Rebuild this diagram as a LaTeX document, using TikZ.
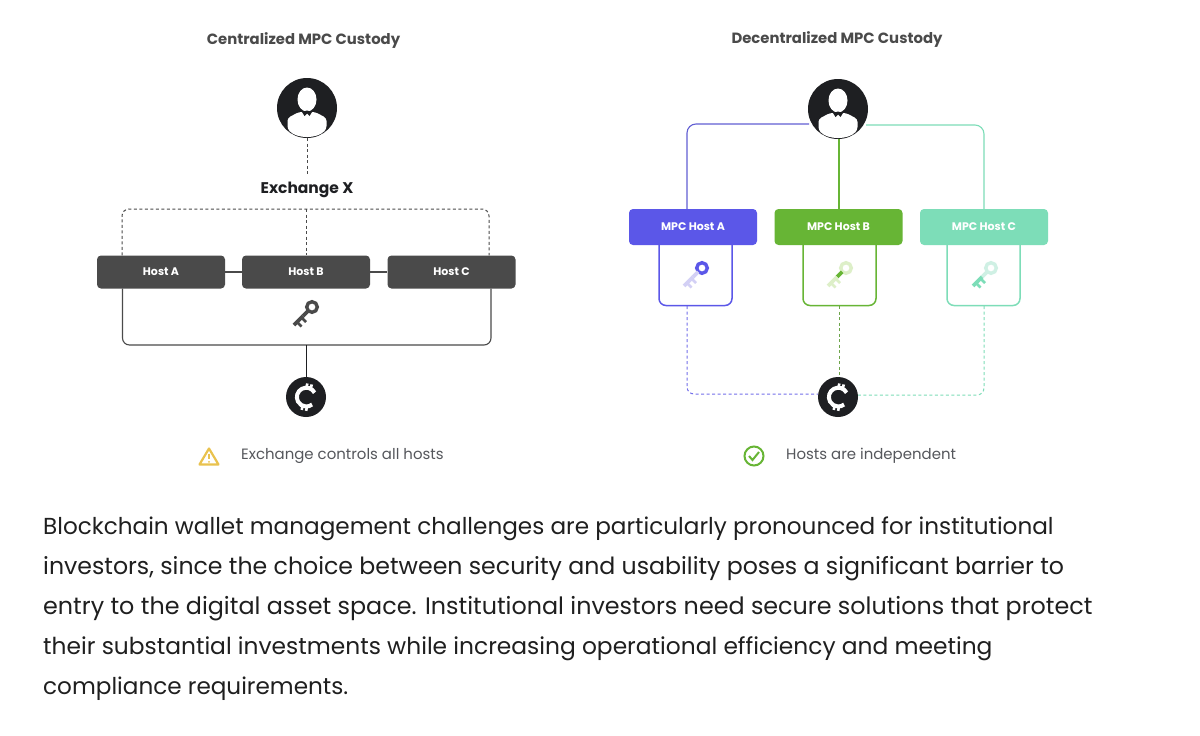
\documentclass[tikz,border=0pt]{standalone}
\usepackage{fontspec}
\setmainfont{Poppins}
\definecolor{hostgray}{HTML}{4A4A4A}
\definecolor{icondark}{HTML}{1E1F22}
\definecolor{textgray}{HTML}{55575C}
\definecolor{hostpurple}{HTML}{5B57E8}
\definecolor{hostgreen}{HTML}{67B535}
\definecolor{hostteal}{HTML}{7DDDB8}
\definecolor{lightpurple}{HTML}{D3D0F5}
\definecolor{lightgreen}{HTML}{DDEFC8}
\definecolor{lightteal}{HTML}{CFF0E4}
\definecolor{warnyellow}{HTML}{E9C24E}
\tikzset{
	hostbox/.style={rectangle,rounded corners=4,fill=#1,text=white,minimum width=128,minimum height=33,inner sep=0,font=\fontsize{11}{13}\selectfont\bfseries},
	mpcbox/.style={hostbox=#1,minimum height=36},
	keeper/.style={rectangle,draw=#1,line width=1.5,rounded corners=7,fill=white,minimum width=73,minimum height=71,inner sep=0},
	roundicon/.style={circle,fill=icondark,inner sep=0,minimum size=#1},
	title/.style={text=hostgray,inner sep=0,font=\fontsize{14.85}{17}\selectfont\bfseries},
	caption/.style={text=textgray,anchor=base west,inner sep=0,font=\fontsize{14.95}{17}\selectfont},
	bodyline/.style={text=black!88,anchor=base west,inner sep=0,font=\fontsize{#1}{26}\selectfont},
	thinline/.style={line width=1.1,draw=#1},
	dashline/.style={line width=1,draw=#1,dash pattern=on 3pt off 2.5pt},
}
\newcommand{\usericon}[1]{
	\begin{scope}[shift={(#1)}]
		\fill[white] (0,-8.5) ellipse (9.5 and 12);
		\fill[white,rounded corners=3] (-19.5,21) -- (-19.5,10) -- (-8,4) -- (8,4) -- (19.5,10) -- (19.5,21) .. controls (10,31) and (-10,31) .. cycle;
		\fill[icondark] (-5,4) -- (-2.5,8) -- (0,5.5) -- (2.5,8) -- (5,4) -- (0,2.5) -- cycle;
	\end{scope}
}
\newcommand{\coinicon}[1]{
	\begin{scope}[shift={(#1)},rotate=-12]
		\draw[white,line width=4] (7.5,-6) arc (-40:-320:9.4);
		\draw[white,line width=2.6] (-1.5,-13.5) -- (-1.5,-9) (3,-13.5) -- (3,-9);
		\draw[white,line width=2.6] (-1.5,13.5) -- (-1.5,9) (3,13.5) -- (3,9);
	\end{scope}
}
\newcommand{\keyicon}[4]{
	\begin{scope}[shift={(#1)}]
		\draw[#2,line width=3.4] (7,-9) circle (5.3);
		\draw[#3,line width=3.6] (3.2,-5.2) -- (-2,0);
		\draw[#4,line width=3.6] (-2,0) -- (-11,9);
		\draw[#4,line width=2.8] (-8,6) -- (-3.5,10.5);
		\draw[#4,line width=2.8] (-3.5,1.5) -- (1,6);
	\end{scope}
}
\begin{document}
\begin{tikzpicture}[x=1pt,y=-1pt]
	\useasboundingbox[fill=white] (0,0) rectangle (1200,736);

	\node[title] (titleL) at (303.5,41) {Centralized MPC Custody};
	\node[roundicon=60] (userL) at (307,108) {};
	\usericon{307,108}
	\node[inner sep=8,font=\fontsize{15.5}{18}\selectfont\bfseries,text=icondark] (exchange) at (307,190) {Exchange X};
	\node[hostbox=hostgray] (hostA) at (161,272) {Host A};
	\node[hostbox=hostgray] (hostB) at (306,272) {Host B};
	\node[hostbox=hostgray] (hostC) at (451.5,272) {Host C};
	\coordinate (dashA) at (122,209);
	\coordinate (dashB) at (306.5,209);
	\coordinate (dashC) at (489,209);
	\coordinate (ringA) at (122.5,345);
	\coordinate (ringB) at (306.5,345);
	\coordinate (ringC) at (491,345);
	\node[roundicon=40] (coinL) at (306,397) {};
	\coinicon{306,397}
	\draw[dashline=hostgray] (userL) -- (exchange);
	\draw[dashline=hostgray,rounded corners=7] (hostA.north -| dashA) -- (dashA) -- (dashC) -- (hostC.north -| dashC);
	\draw[dashline=hostgray] (dashB) -- (hostB.north -| dashB);
	\draw[thinline=hostgray] (hostA) -- (hostB);
	\draw[thinline=hostgray] (hostB) -- (hostC);
	\draw[thinline=hostgray,rounded corners=7] (hostA.south -| ringA) -- (ringA) -- (ringC) -- (hostC.south -| ringC);
	\draw[thinline=icondark] (ringB) -- (coinL.north -| ringB);
	\keyicon{305,316}{hostgray}{hostgray}{hostgray}

	\draw[warnyellow,line width=2.2,line join=round] (209,448.5) -- (218.5,464.5) -- (199.5,464.5) -- cycle;
	\draw[warnyellow,line width=1.6] (209,453.5) -- (209,459);
	\fill[warnyellow] (209,461.8) circle (1);
	\node[caption] (captionL) at (241,459.5) {Exchange controls all hosts};

	\node[title] (titleR) at (837,40) {Decentralized MPC Custody};
	\coordinate (cornerA) at (687,124);
	\coordinate (cornerC) at (984,125);
	\draw[thinline=hostpurple!80!gray,rounded corners=9] (809,124) -- (cornerA) -- (687,209);
	\draw[thinline=hostteal,rounded corners=9] (866,125) -- (cornerC) -- (984,209);
	\node[roundicon=60] (userR) at (838,109) {};
	\usericon{838,109}
	\node[keeper=hostpurple] (keepA) at (695.5,270) {};
	\node[keeper=hostgreen] (keepB) at (839.5,270) {};
	\node[keeper=hostteal] (keepC) at (983.5,270) {};
	\node[mpcbox=hostpurple] (mpcA) at (693,227) {MPC Host A};
	\node[mpcbox=hostgreen] (mpcB) at (838.5,227) {MPC Host B};
	\node[mpcbox=hostteal] (mpcC) at (984,227) {MPC Host C};
	\draw[thinline=hostgreen] (839,139) -- (839,209);
	\keyicon{695,277}{hostpurple}{lightpurple}{lightpurple}
	\keyicon{839,277}{lightgreen}{hostgreen}{lightgreen}
	\keyicon{984,277}{lightteal}{lightteal}{hostteal}
	\node[roundicon=40] (coinR) at (838,397) {};
	\coinicon{838,397}
	\coordinate (cornerD) at (687,394);
	\coordinate (cornerE) at (984,395);
	\draw[dashline=hostpurple!85!white,rounded corners=7] (687,306) -- (cornerD) -- (coinR.west |- cornerD);
	\draw[dashline=hostgreen!70!gray] (keepB.south) -- (coinR.north -| keepB);
	\draw[dashline=hostteal,rounded corners=7] (984,306) -- (cornerE) -- (coinR.east |- cornerE);

	\draw[hostgreen,line width=2] (754,456) circle (9.5);
	\draw[hostgreen,line width=2] (749,456) -- (752.5,460) -- (759,452);
	\node[caption] (captionR) at (786,459.5) {Hosts are independent};

	\node[bodyline=23.13] (lineA) at (43,534) {Blockchain wallet management challenges are particularly pronounced for institutional};
	\node[bodyline=23.65] (lineB) at (43,574) {investors, since the choice between security and usability poses a significant barrier to};
	\node[bodyline=23.83] (lineC) at (43,614) {entry to the digital asset space. Institutional investors need secure solutions that protect};
	\node[bodyline=23.33] (lineD) at (43,654) {their substantial investments while increasing operational efficiency and meeting};
	\node[bodyline=23.13] (lineE) at (43,694) {compliance requirements.};
\end{tikzpicture}
\end{document}
